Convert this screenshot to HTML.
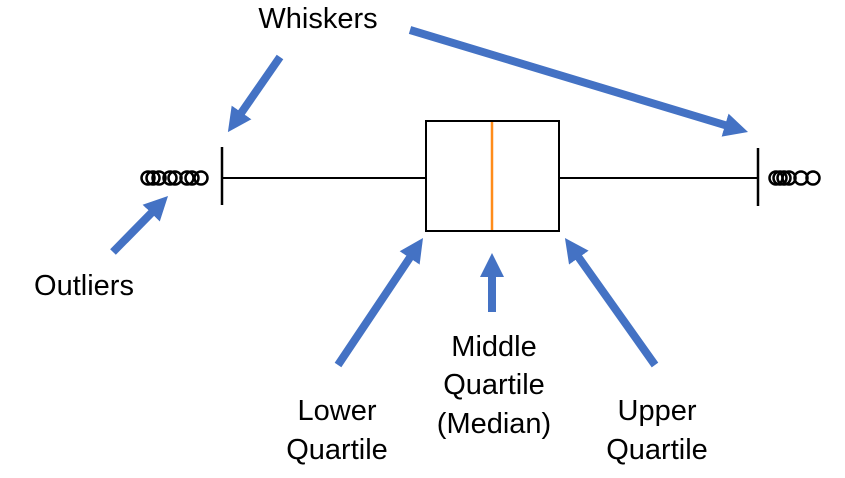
<!DOCTYPE html>
<html><head><meta charset="utf-8"><style>
html,body{margin:0;padding:0;background:#fff;}
svg{display:block;}
text{font-family:"Liberation Sans",sans-serif;font-size:29px;fill:#000;}
</style></head><body>
<svg width="845" height="478" viewBox="0 0 845 478" xmlns="http://www.w3.org/2000/svg">
<defs>
<marker id="ah" markerWidth="3" markerHeight="3" refX="1" refY="1.5" orient="auto" markerUnits="strokeWidth">
<path d="M0,0 L3,1.5 L0,3 z" fill="#4472C4"/>
</marker>
</defs>
<line x1="222" y1="178" x2="426" y2="178" stroke="#000" stroke-width="2"/>
<line x1="559" y1="178" x2="758" y2="178" stroke="#000" stroke-width="2"/>
<line x1="222" y1="147" x2="222" y2="205" stroke="#000" stroke-width="2.5"/>
<line x1="758" y1="148" x2="758" y2="206" stroke="#000" stroke-width="2.5"/>
<rect x="426" y="121" width="133" height="110" fill="none" stroke="#000" stroke-width="2"/>
<line x1="492" y1="122" x2="492" y2="230" stroke="#FF8C1A" stroke-width="2.5"/>
<g fill="none" stroke="#000" stroke-width="2.5">
<circle cx="148" cy="178" r="6.5"/><circle cx="153" cy="178" r="6.5"/><circle cx="159" cy="178" r="6.5"/>
<circle cx="170" cy="178" r="6.5"/><circle cx="175" cy="178" r="6.5"/><circle cx="187" cy="178" r="6.5"/><circle cx="192" cy="178" r="6.5"/><circle cx="201" cy="178" r="6.5"/>
<circle cx="776" cy="178" r="6.5"/><circle cx="780" cy="178" r="6.5"/><circle cx="784" cy="178" r="6.5"/><circle cx="789" cy="178" r="6.5"/>
<circle cx="801" cy="178" r="6.5"/><circle cx="813" cy="178" r="6.5"/>
</g>
<g stroke="#4472C4" stroke-width="8" marker-end="url(#ah)">
<line x1="280" y1="57" x2="237" y2="119"/>
<line x1="410" y1="30" x2="732.7" y2="127.4"/>
<line x1="113" y1="252" x2="156.8" y2="207.4"/>
<line x1="338" y1="365" x2="414.1" y2="251.3"/>
<line x1="492" y1="312" x2="492" y2="269"/>
<line x1="655" y1="365" x2="574.2" y2="251.1"/>
</g>
<text x="318" y="28" text-anchor="middle">Whiskers</text>
<text x="84" y="295" text-anchor="middle">Outliers</text>
<text x="337" y="420" text-anchor="middle">Lower</text>
<text x="337" y="459" text-anchor="middle">Quartile</text>
<text x="494" y="356" text-anchor="middle">Middle</text>
<text x="494" y="394" text-anchor="middle">Quartile</text>
<text x="494" y="433" text-anchor="middle">(Median)</text>
<text x="657" y="420" text-anchor="middle">Upper</text>
<text x="657" y="459" text-anchor="middle">Quartile</text>
</svg>
</body></html>
